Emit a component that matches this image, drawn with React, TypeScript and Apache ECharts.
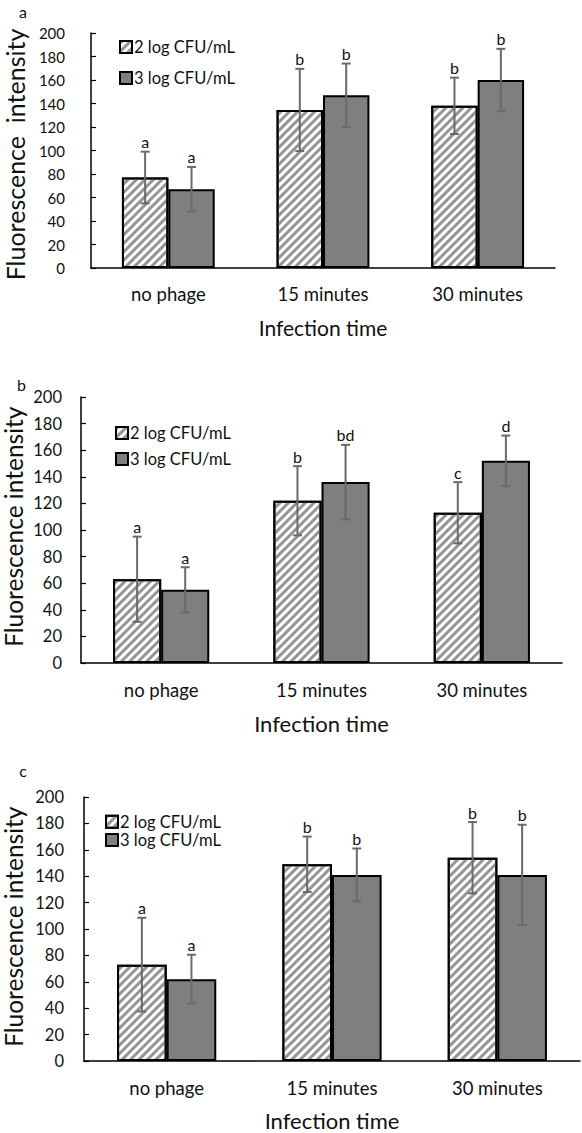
import React, { useEffect, useRef } from "react";
import * as echarts from "echarts";

// ---- data ----
const categories = ["no phage", "15 minutes", "30 minutes"];
const seriesNames = ["2 log CFU/mL", "3 log CFU/mL"];
const panelLabels = ["a", "b", "c"];
const xTitle = "Infection time";
const yTitles = ["Fluorescence  intensity", "Fluorescence intensity", "Fluorescence intensity"];

const aMean2 = [77, 134.5, 138];
const aErr2 = [22, 35, 24];
const aMean3 = [67, 147, 160];
const aErr3 = [19, 27, 26.5];
const aLetters2 = ["a", "b", "b"];
const aLetters3 = ["a", "b", "b"];

const bMean2 = [63, 122, 113];
const bErr2 = [32, 26, 23];
const bMean3 = [55, 136, 152];
const bErr3 = [17, 28, 19];
const bLetters2 = ["a", "b", "c"];
const bLetters3 = ["a", "bd", "d"];

const cMean2 = [73, 149, 154];
const cErr2 = [35.5, 21, 27];
const cMean3 = [62, 141, 141];
const cErr3 = [18.5, 20, 38];
const cLetters2 = ["a", "b", "b"];
const cLetters3 = ["a", "b", "b"];

const panels = [
  { mean2: aMean2, err2: aErr2, mean3: aMean3, err3: aErr3, l2: aLetters2, l3: aLetters3 },
  { mean2: bMean2, err2: bErr2, mean3: bMean3, err3: bErr3, l2: bLetters2, l3: bLetters3 },
  { mean2: cMean2, err2: cErr2, mean3: cMean3, err3: cErr3, l2: cLetters2, l3: cLetters3 },
];

// ---- layout (styles) ----
const FONT = "Lato, 'Noto Sans', sans-serif";
const layouts = [
  { left: 91, right: 27, top: 33, height: 235, tickFont: 15, tickMargin: 26, yTitleFont: 25, yTitleX: 15, yTitleY: 154.5, xTitleY: 327, xTitleFont: 21, catMargin: 16, legendLeft: 119, legendTop: 38, legendGap: 13, labelX: 23, labelY: 11.5 },
  { left: 81, right: 20, top: 397, height: 266, tickFont: 16.5, tickMargin: 19, yTitleFont: 24.5, yTitleX: 13, yTitleY: 526.7, xTitleY: 723, xTitleFont: 22, catMargin: 17, legendLeft: 115, legendTop: 424, legendGap: 8, labelX: 21.5, labelY: 384 },
  { left: 84, right: 2, top: 797, height: 264, tickFont: 16.5, tickMargin: 20, yTitleFont: 24.5, yTitleX: 13.5, yTitleY: 926.7, xTitleY: 1120, xTitleFont: 22, catMargin: 17, legendLeft: 105, legendTop: 812.7, legendGap: 0.3, labelX: 23, labelY: 770.5 },
];

const HATCH_DECAL = {
  symbol: "rect",
  symbolSize: 1,
  dashArrayX: [1, 0],
  dashArrayY: [3, 3],
  rotation: -Math.PI / 4,
  color: "#959595",
};

function buildOption() {
  const grid: any[] = [];
  const xAxis: any[] = [];
  const yAxis: any[] = [];
  const series: any[] = [];
  const legend: any[] = [];
  const graphic: any[] = [];

  panels.forEach((p, i) => {
    const L = layouts[i];
    grid.push({ left: L.left, right: L.right, top: L.top, height: L.height, containLabel: false });
    xAxis.push({
      type: "category",
      gridIndex: i,
      data: categories,
      axisLine: { show: true, lineStyle: { color: "#000", width: 1.5 } },
      axisTick: { show: false },
      axisLabel: { margin: L.catMargin, fontSize: 18.5, color: "#111", fontFamily: FONT },
    });
    yAxis.push({
      type: "value",
      gridIndex: i,
      min: 0,
      max: 200,
      interval: 20,
      splitLine: { show: false },
      axisLine: { show: true, lineStyle: { color: "#000", width: 1.5 } },
      axisTick: { show: true, inside: true, length: 5, lineStyle: { color: "#000", width: 1.2 } },
      axisLabel: { margin: L.tickMargin, fontSize: L.tickFont, color: "#111", fontFamily: FONT },
    });

    const sets = [
      { mean: p.mean2, err: p.err2, letters: p.l2, name: seriesNames[0], hatched: true, off: -0.15 },
      { mean: p.mean3, err: p.err3, letters: p.l3, name: seriesNames[1], hatched: false, off: 0.15 },
    ];
    sets.forEach((s) => {
      series.push({
        type: "bar",
        name: s.name,
        xAxisIndex: i,
        yAxisIndex: i,
        data: s.mean,
        barWidth: "30%",
        barGap: "0%",
        itemStyle: s.hatched
          ? { color: "#ffffff", borderColor: "#000", borderWidth: 2, decal: HATCH_DECAL }
          : { color: "#7f7f7f", borderColor: "#000", borderWidth: 2 },
        emphasis: { disabled: true },
        z: 2,
      });
      const letters = s.letters;
      const off = s.off;
      series.push({
        type: "custom",
        name: s.name + " error",
        xAxisIndex: i,
        yAxisIndex: i,
        data: s.mean.map((m, k) => [k, m, s.err[k]]),
        z: 5,
        silent: true,
        renderItem: (params: any, api: any) => {
          const ci = api.value(0);
          const v = api.value(1);
          const e = api.value(2);
          const band = api.size([1, 0])[0];
          const top = api.coord([ci, v + e]);
          const bot = api.coord([ci, v - e]);
          const x = top[0] + off * band;
          const cap = 4.5;
          const st = { stroke: "#6a6a6a", lineWidth: 2 };
          return {
            type: "group",
            children: [
              { type: "line", shape: { x1: x, y1: top[1], x2: x, y2: bot[1] }, style: st },
              { type: "line", shape: { x1: x - cap, y1: top[1], x2: x + cap, y2: top[1] }, style: st },
              { type: "line", shape: { x1: x - cap, y1: bot[1], x2: x + cap, y2: bot[1] }, style: st },
              {
                type: "text",
                x: x,
                y: top[1] - 2,
                style: {
                  text: letters[params.dataIndex],
                  textAlign: "center",
                  textVerticalAlign: "bottom",
                  fontSize: 16,
                  fontFamily: FONT,
                  fill: "#111",
                },
              },
            ],
          };
        },
      });
    });

    legend.push({
      show: true,
      orient: "vertical",
      left: L.legendLeft,
      top: L.legendTop,
      itemWidth: 12,
      itemHeight: 12,
      itemGap: L.legendGap,
      padding: 0,
      icon: "rect",
      selectedMode: false,
      data: seriesNames,
      textStyle: { fontSize: 16.5, lineHeight: 18, color: "#111", fontFamily: FONT, padding: [0, 0, 0, -3] },
    });

    graphic.push({
      type: "text",
      x: L.labelX,
      y: L.labelY,
      style: { text: panelLabels[i], fontSize: 16, fontFamily: FONT, fill: "#111", textAlign: "center", textVerticalAlign: "middle" },
    });
    graphic.push({
      type: "text",
      x: L.yTitleX,
      y: L.yTitleY,
      rotation: Math.PI / 2,
      style: { text: yTitles[i], fontSize: L.yTitleFont, fontFamily: FONT, fill: "#111", textAlign: "center", textVerticalAlign: "middle" },
    });
    graphic.push({
      type: "text",
      x: L.left + (582 - L.left - L.right) / 2,
      y: L.xTitleY,
      style: { text: xTitle, fontSize: L.xTitleFont, fontFamily: FONT, fill: "#111", textAlign: "center", textVerticalAlign: "middle" },
    });
  });

  return {
    animation: false,
    backgroundColor: "#ffffff",
    grid,
    xAxis,
    yAxis,
    series,
    legend,
    graphic,
  };
}

export default function App() {
  const ref = useRef<HTMLDivElement>(null);
  useEffect(() => {
    if (!ref.current) return;
    const chart = echarts.init(ref.current, undefined, { renderer: "svg" });
    chart.setOption(buildOption());
    return () => chart.dispose();
  }, []);
  return (
    <div
      ref={ref}
      style={{ position: "fixed", left: 0, top: 0, width: 582, height: 1133, background: "#fff" }}
    />
  );
}
